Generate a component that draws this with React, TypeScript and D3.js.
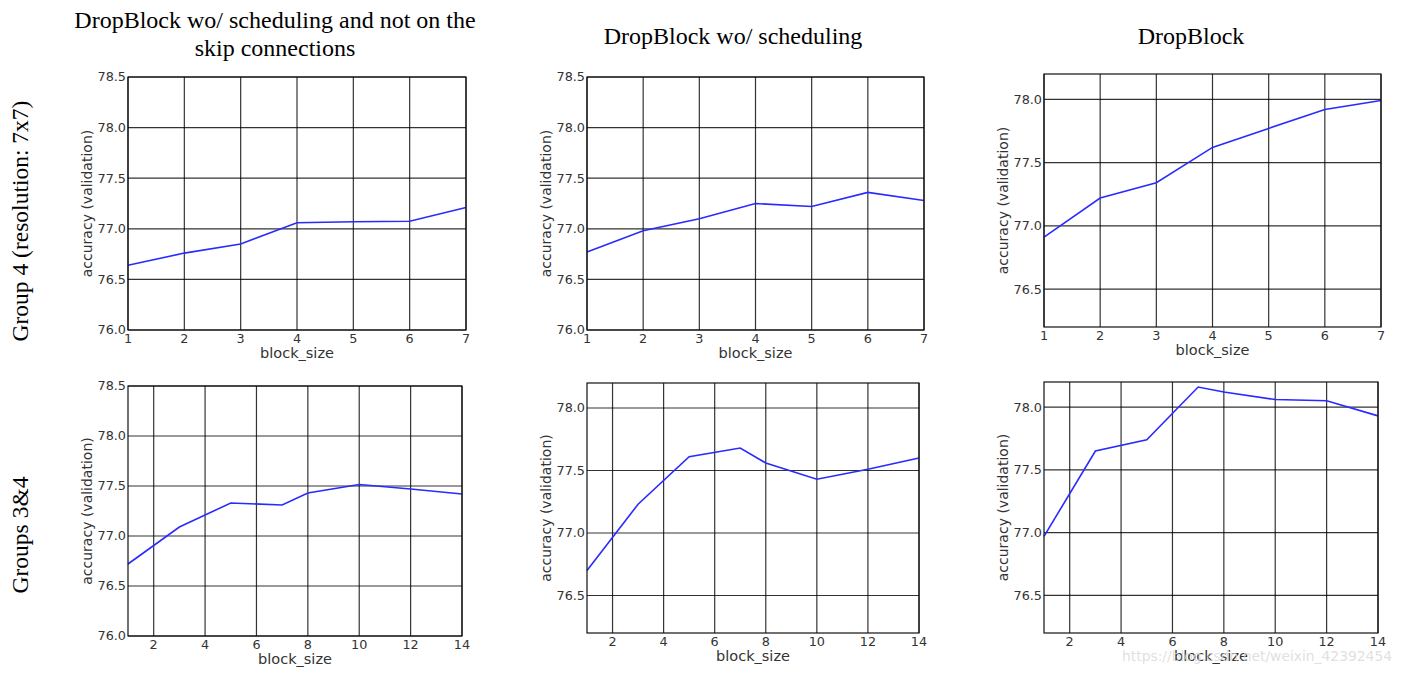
import React, { useEffect, useRef } from 'react';
import * as d3 from 'd3';

// block sizes
const smallSizes = [1, 2, 3, 4, 5, 6, 7];
const largeSizes = [1, 3, 5, 7, 8, 10, 12, 14];

// accuracy (validation)
const g4NoSkip = [76.64, 76.76, 76.85, 77.06, 77.07, 77.075, 77.21];
const g4NoSched = [76.77, 76.98, 77.1, 77.25, 77.22, 77.36, 77.28];
const g4Full = [76.91, 77.22, 77.34, 77.62, 77.77, 77.92, 77.99];
const g34NoSkip = [76.72, 77.09, 77.33, 77.31, 77.43, 77.515, 77.47, 77.42];
const g34NoSched = [76.7, 77.23, 77.61, 77.68, 77.56, 77.43, 77.51, 77.6];
const g34Full = [76.97, 77.65, 77.74, 78.16, 78.12, 78.06, 78.05, 77.93];

const smallTicks = [1, 2, 3, 4, 5, 6, 7];
const largeTicks = [2, 4, 6, 8, 10, 12, 14];
const wideYTicks = [76.0, 76.5, 77.0, 77.5, 78.0, 78.5];
const narrowYTicks = [76.5, 77.0, 77.5, 78.0];

const columnTitles = [
  ['DropBlock wo/ scheduling and not on the', 'skip connections'],
  ['DropBlock wo/ scheduling'],
  ['DropBlock'],
];
const rowTitles = ['Group 4 (resolution: 7x7)', 'Groups 3&4'];

interface Panel {
  box: [number, number, number, number]; // left, top, right, bottom
  xs: number[];
  ys: number[];
  xDomain: [number, number];
  yDomain: [number, number];
  xTicks: number[];
  yTicks: number[];
}

const panels: Panel[] = [
  { box: [128, 77, 466, 330], xs: smallSizes, ys: g4NoSkip, xDomain: [1, 7], yDomain: [76, 78.5], xTicks: smallTicks, yTicks: wideYTicks },
  { box: [587, 77, 924, 330], xs: smallSizes, ys: g4NoSched, xDomain: [1, 7], yDomain: [76, 78.5], xTicks: smallTicks, yTicks: wideYTicks },
  { box: [1044, 74, 1381, 327], xs: smallSizes, ys: g4Full, xDomain: [1, 7], yDomain: [76.2, 78.2], xTicks: smallTicks, yTicks: narrowYTicks },
  { box: [128, 386, 462, 636], xs: largeSizes, ys: g34NoSkip, xDomain: [1, 14], yDomain: [76, 78.5], xTicks: largeTicks, yTicks: wideYTicks },
  { box: [587, 383, 919, 633], xs: largeSizes, ys: g34NoSched, xDomain: [1, 14], yDomain: [76.2, 78.2], xTicks: largeTicks, yTicks: narrowYTicks },
  { box: [1044, 382, 1378, 633], xs: largeSizes, ys: g34Full, xDomain: [1, 14], yDomain: [76.2, 78.2], xTicks: largeTicks, yTicks: narrowYTicks },
];

const W = 1403;
const H = 674;
const sans = "'DejaVu Sans', sans-serif";
const serif = "'Liberation Serif', 'Times New Roman', serif";

const App: React.FC = () => {
  const svgRef = useRef<SVGSVGElement>(null);

  useEffect(() => {
    if (!svgRef.current) return;
    const svg = d3.select(svgRef.current);
    svg.selectAll('*').remove();

    svg.append('rect').attr('width', W).attr('height', H).attr('fill', '#fff');

    panels.forEach((p) => {
      const [l, t, r, b] = p.box;
      const x = d3.scaleLinear().domain(p.xDomain).range([l, r]);
      const y = d3.scaleLinear().domain(p.yDomain).range([b, t]);
      const g = svg.append('g');

      // grid
      g.selectAll('line.vx')
        .data(p.xTicks)
        .enter()
        .append('line')
        .attr('x1', (d) => x(d))
        .attr('x2', (d) => x(d))
        .attr('y1', t)
        .attr('y2', b)
        .attr('stroke', '#000')
        .attr('stroke-opacity', 0.8)
        .attr('stroke-width', 1.2);
      g.selectAll('line.hy')
        .data(p.yTicks)
        .enter()
        .append('line')
        .attr('x1', l)
        .attr('x2', r)
        .attr('y1', (d) => y(d))
        .attr('y2', (d) => y(d))
        .attr('stroke', '#000')
        .attr('stroke-opacity', 0.8)
        .attr('stroke-width', 1.2);

      // data line
      const line = d3
        .line<number>()
        .x((_, i) => x(p.xs[i]))
        .y((d) => y(d));
      g.append('path')
        .attr('d', line(p.ys))
        .attr('fill', 'none')
        .attr('stroke', '#2a2aff')
        .attr('stroke-width', 1.6);

      // frame
      g.append('rect')
        .attr('x', l)
        .attr('y', t)
        .attr('width', r - l)
        .attr('height', b - t)
        .attr('fill', 'none')
        .attr('stroke', '#111')
        .attr('stroke-width', 1.2);

      // tick labels
      g.selectAll('text.xt')
        .data(p.xTicks)
        .enter()
        .append('text')
        .attr('x', (d) => x(d))
        .attr('y', b + 13)
        .attr('text-anchor', 'middle')
        .attr('font-family', sans)
        .attr('font-size', 12.8)
        .attr('fill', '#333')
        .text((d) => String(d));
      g.selectAll('text.yt')
        .data(p.yTicks)
        .enter()
        .append('text')
        .attr('x', l - 2)
        .attr('y', (d) => y(d))
        .attr('dy', '0.35em')
        .attr('text-anchor', 'end')
        .attr('font-family', sans)
        .attr('font-size', 12.8)
        .attr('fill', '#333')
        .text((d) => d.toFixed(1));

      // axis labels
      g.append('text')
        .attr('x', (l + r) / 2)
        .attr('y', b + 28)
        .attr('text-anchor', 'middle')
        .attr('font-family', sans)
        .attr('font-size', 14.5)
        .attr('fill', '#333')
        .text('block_size');
      g.append('text')
        .attr('transform', `translate(${l - 36},${(t + b) / 2}) rotate(-90)`)
        .attr('text-anchor', 'middle')
        .attr('font-family', sans)
        .attr('font-size', 14)
        .attr('fill', '#333')
        .text('accuracy (validation)');
    });

    // column titles
    const titleX = [275, 733, 1191];
    columnTitles.forEach((lines, i) => {
      const top = lines.length === 2 ? 28 : 43.5;
      lines.forEach((s, j) => {
        svg.append('text')
          .attr('x', titleX[i])
          .attr('y', top + j * 28)
          .attr('text-anchor', 'middle')
          .attr('font-family', serif)
          .attr('font-size', 24)
          .attr('fill', '#000')
          .text(s);
      });
    });

    // row titles
    const rowY = [221, 535];
    rowTitles.forEach((s, i) => {
      svg.append('text')
        .attr('transform', `translate(28,${rowY[i]}) rotate(-90)`)
        .attr('text-anchor', 'middle')
        .attr('font-family', serif)
        .attr('font-size', 23.5)
        .attr('fill', '#000')
        .text(s);
    });

    // watermark
    svg.append('text')
      .attr('x', 1122)
      .attr('y', 661)
      .attr('font-family', sans)
      .attr('font-size', 14.5)
      .attr('textLength', 270)
      .attr('lengthAdjust', 'spacingAndGlyphs')
      .attr('fill', '#d8d8d8')
      .attr('fill-opacity', 0.8)
      .text('https://blog.csdn.net/weixin_42392454');
  }, []);

  return (
    <div style={{ position: 'absolute', left: 0, top: 0, width: W, height: H }}>
      <svg ref={svgRef} width={W} height={H} viewBox={`0 0 ${W} ${H}`} />
    </div>
  );
};

export default App;
